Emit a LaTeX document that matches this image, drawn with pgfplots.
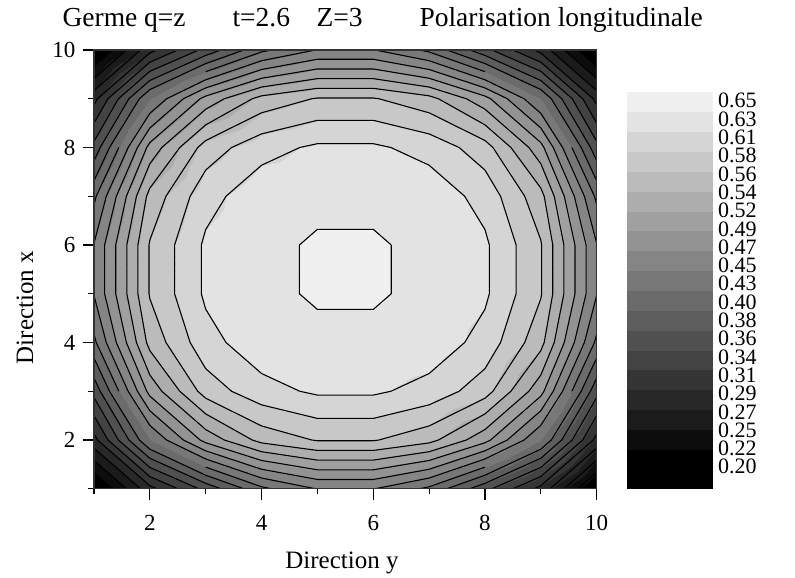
\documentclass[border=0pt]{standalone}
\usepackage{pgfplots}
\pgfplotsset{compat=1.18}
\usepackage{pgfplotstable}
\usepackage{fontspec}
\setmainfont{Liberation Serif}

% grid values: x = Direction x (vertical), y = Direction y (horizontal)
\pgfplotstableread{
x y z
1 1 0.215
1 2 0.305
1 3 0.365
1 4 0.420
1 5 0.4485
1 6 0.4485
1 7 0.420
1 8 0.365
1 9 0.305
1 10 0.215
2 1 0.305
2 2 0.425
2 3 0.500
2 4 0.545
2 5 0.5617
2 6 0.5617
2 7 0.545
2 8 0.500
2 9 0.425
2 10 0.305
3 1 0.365
3 2 0.500
3 3 0.570
3 4 0.597
3 5 0.6087
3 6 0.6087
3 7 0.597
3 8 0.570
3 9 0.500
3 10 0.365
4 1 0.420
4 2 0.545
4 3 0.597
4 4 0.619
4 5 0.6235
4 6 0.6235
4 7 0.619
4 8 0.597
4 9 0.545
4 10 0.420
5 1 0.4485
5 2 0.5617
5 3 0.6087
5 4 0.6235
5 5 0.6294
5 6 0.6294
5 7 0.6235
5 8 0.6087
5 9 0.5617
5 10 0.4485
6 1 0.4485
6 2 0.5617
6 3 0.6087
6 4 0.6235
6 5 0.6294
6 6 0.6294
6 7 0.6235
6 8 0.6087
6 9 0.5617
6 10 0.4485
7 1 0.420
7 2 0.545
7 3 0.597
7 4 0.619
7 5 0.6235
7 6 0.6235
7 7 0.619
7 8 0.597
7 9 0.545
7 10 0.420
8 1 0.365
8 2 0.500
8 3 0.570
8 4 0.597
8 5 0.6087
8 6 0.6087
8 7 0.597
8 8 0.570
8 9 0.500
8 10 0.365
9 1 0.305
9 2 0.425
9 3 0.500
9 4 0.545
9 5 0.5617
9 6 0.5617
9 7 0.545
9 8 0.500
9 9 0.425
9 10 0.305
10 1 0.215
10 2 0.305
10 3 0.365
10 4 0.420
10 5 0.4485
10 6 0.4485
10 7 0.420
10 8 0.365
10 9 0.305
10 10 0.215
}\gridtable

% colour scale: the level range, drawn as a two-column mesh
\pgfplotstableread{
cx cy cz
0 0.2 0.2
1 0.2 0.2
0 0.65 0.65
1 0.65 0.65
}\cbtable

\pgfplotsset{colormap={cbar}{
 gray(0cm)=(0); gray(1cm)=(0); gray(2cm)=(0.0523); gray(3cm)=(0.1046);
 gray(4cm)=(0.1569); gray(5cm)=(0.2092); gray(6cm)=(0.2614); gray(7cm)=(0.3137);
 gray(8cm)=(0.3660); gray(9cm)=(0.4183); gray(10cm)=(0.4706); gray(11cm)=(0.5229);
 gray(12cm)=(0.5752); gray(13cm)=(0.6275); gray(14cm)=(0.6797); gray(15cm)=(0.7320);
 gray(16cm)=(0.7843); gray(17cm)=(0.8366); gray(18cm)=(0.8889); gray(19cm)=(0.9412);
 gray(20cm)=(0.9412)}}

% marching squares on the grid read from \gridtable
\ExplSyntaxOn
\fp_new:N \l_ct_L_fp
\fp_new:N \l_ct_a_fp
\fp_new:N \l_ct_b_fp
\fp_new:N \l_ct_t_fp
\seq_new:N \l_ct_pts_seq
\tl_new:N \g_ct_segs_tl
\tl_new:N \l_ct_xi_tl
\tl_new:N \l_ct_yj_tl
\cs_new_protected:Npn \ct_load:
  {
    \int_step_inline:nnn {0} {99}
      {
        \pgfplotstablegetelem {##1} {x} \of \gridtable
        \tl_set_eq:NN \l_ct_xi_tl \pgfplotsretval
        \pgfplotstablegetelem {##1} {y} \of \gridtable
        \tl_set_eq:NN \l_ct_yj_tl \pgfplotsretval
        \pgfplotstablegetelem {##1} {z} \of \gridtable
        \tl_gset_eq:cN { ct@ \l_ct_xi_tl @ \l_ct_yj_tl } \pgfplotsretval
      }
  }
\cs_new_protected:Npn \ct_edge:nnnn #1#2#3#4
  {
    \fp_set:Nn \l_ct_a_fp { \use:c { ct@#1@#2 } }
    \fp_set:Nn \l_ct_b_fp { \use:c { ct@#3@#4 } }
    \fp_compare:nT { ( \l_ct_a_fp - \l_ct_L_fp ) * ( \l_ct_b_fp - \l_ct_L_fp ) < 0 }
      {
        \fp_set:Nn \l_ct_t_fp { ( \l_ct_L_fp - \l_ct_a_fp ) / ( \l_ct_b_fp - \l_ct_a_fp ) }
        \seq_put_right:Nx \l_ct_pts_seq
          {
            ( \fp_eval:n { round( #2 + \l_ct_t_fp * ( #4 - #2 ) , 4 ) } ,
              \fp_eval:n { round( #1 + \l_ct_t_fp * ( #3 - #1 ) , 4 ) } ) ~
          }
      }
  }
\cs_new_protected:Npn \ct_cell:nnnn #1#2#3#4
  {
    \seq_clear:N \l_ct_pts_seq
    \ct_edge:nnnn {#1}{#2}{#1}{#4}
    \ct_edge:nnnn {#1}{#4}{#3}{#4}
    \ct_edge:nnnn {#3}{#4}{#3}{#2}
    \ct_edge:nnnn {#3}{#2}{#1}{#2}
    \int_compare:nNnT { \seq_count:N \l_ct_pts_seq } > {1}
      {
        \tl_gput_right:Nx \g_ct_segs_tl
          { \seq_item:Nn \l_ct_pts_seq {1} \seq_item:Nn \l_ct_pts_seq {2} (nan,nan) ~ }
      }
    \int_compare:nNnT { \seq_count:N \l_ct_pts_seq } > {3}
      {
        \tl_gput_right:Nx \g_ct_segs_tl
          { \seq_item:Nn \l_ct_pts_seq {3} \seq_item:Nn \l_ct_pts_seq {4} (nan,nan) ~ }
      }
  }
\cs_new_protected:Npn \ct_cell:nn #1#2
  {
    \use:e { \exp_not:N \ct_cell:nnnn {#1} {#2} { \int_eval:n {#1+1} } { \int_eval:n {#2+1} } }
  }
\cs_new_protected:Npn \ct_level:n #1
  {
    \fp_set:Nn \l_ct_L_fp {#1}
    \int_step_inline:nnn {1} {9}
      { \int_step_inline:nnn {1} {9} { \ct_cell:nn {##1} {####1} } }
  }
\NewDocumentCommand \ComputeContours { m }
  {
    \ct_load:
    \tl_gclear:N \g_ct_segs_tl
    \clist_map_function:nN {#1} \ct_level:n
  }
\NewDocumentCommand \ContourPlot { m }
  {
    \use:e { \exp_not:N \addplot [ \exp_not:n {#1} ] ~ coordinates ~ { \exp_not:V \g_ct_segs_tl } ; }
  }
\ExplSyntaxOff

\ComputeContours{0.2225,0.245,0.2675,0.29,0.3125,0.335,0.3575,0.38,0.4025,0.425,0.4475,0.47,0.4925,0.515,0.5375,0.56,0.5825,0.605,0.6275}

\newcommand{\titlefont}{\fontsize{27.5}{29}\selectfont}
\newcommand{\labfont}{\fontsize{25}{27}\selectfont}
\newcommand{\tickfont}{\fontsize{23}{25}\selectfont}
\newcommand{\cbfont}{\fontsize{22}{24}\selectfont}

\begin{document}
\begin{tikzpicture}
\path (0pt,0pt) rectangle (795pt,577pt);
\begin{axis}[
  at={(94pt,88.25pt)}, anchor=south west,
  scale only axis, width=502.7pt, height=438.75pt,
  xmin=1, xmax=10, ymin=1, ymax=10,
  xtick={2,4,6,8,10}, ytick={2,4,6,8,10},
  minor xtick={1,3,5,7,9}, minor ytick={1,3,5,7,9},
  tick pos=left,
  tick align=outside,
  major tick length=11pt, minor tick length=5.5pt,
  every tick/.style={black, line width=1.2pt},
  axis line style={draw=black!80, line width=1.2pt},
  /pgf/number format/assume math mode=true,
  tick label style={font=\tickfont},
  xticklabel style={yshift=-12pt},
  yticklabel style={xshift=-4pt},
  colormap name=cbar,
  colormap access=piecewise constant,
  point meta min=0.2, point meta max=0.65,
  axis on top,
]
\addplot[surf, shader=interp, mesh/cols=10, point meta=\thisrow{z}] table[x=y, y=x] {\gridtable};
\ContourPlot{black, line width=1.1pt, unbounded coords=jump, no markers}
\end{axis}
\begin{axis}[
  at={(627pt,88.25pt)}, anchor=south west,
  scale only axis, width=85pt, height=396.3pt,
  xmin=0, xmax=1, ymin=0.2, ymax=0.65,
  xtick=\empty,
  ytick={0.6406,0.6198,0.5990,0.5783,0.5575,0.5367,0.5159,0.4951,0.4744,0.4536,0.4328,0.4120,0.3912,0.3705,0.3497,0.3289,0.3081,0.2873,0.2666,0.2458,0.2250},
  yticklabels={0.65,0.63,0.61,0.58,0.56,0.54,0.52,0.49,0.47,0.45,0.43,0.40,0.38,0.36,0.34,0.31,0.29,0.27,0.25,0.22,0.20},
  ytick pos=right,
  yticklabel pos=right,
  major tick length=0pt,
  axis line style={draw=none},
  yticklabel style={font=\cbfont, anchor=west, inner sep=0pt, xshift=6pt},
  colormap name=cbar,
  colormap access=piecewise constant,
  point meta min=0.2, point meta max=0.65,
]
\addplot[surf, shader=interp, mesh/cols=2, point meta=\thisrow{cz}] table[x=cx, y=cy] {\cbtable};
\end{axis}
\node[anchor=base west, font=\titlefont] at (59pt,550pt) {Germe q=z};
\node[anchor=base west, font=\titlefont] at (229pt,550pt) {t=2.6};
\node[anchor=base west, font=\titlefont] at (313pt,550pt) {Z=3};
\node[anchor=base west, font=\titlefont] at (416pt,550pt) {Polarisation longitudinale};
\node[anchor=base, font=\labfont] at (342pt,8pt) {Direction y};
\node[anchor=base, rotate=90, font=\labfont] at (33pt,269.4pt) {Direction x};
\end{tikzpicture}
\end{document}
